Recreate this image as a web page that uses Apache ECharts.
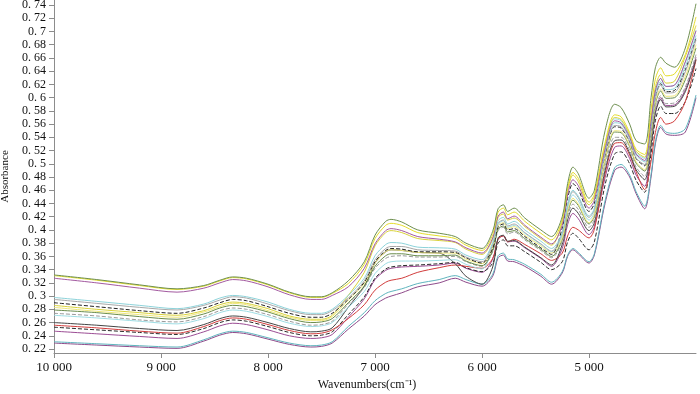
<!DOCTYPE html>
<html>
<head>
<meta charset="utf-8">
<script src="https://cdn.jsdelivr.net/npm/echarts@6.0.0/dist/echarts.min.js"></script>
<style>
  html, body { margin: 0; padding: 0; background: #fff; }
  #chart { width: 700px; height: 394px; }
</style>
</head>
<body>
<div id="chart"></div>
<script>
// wavenumbers (cm-1), shared by every spectrum
const wavenumbers = [10000, 9600, 9200, 8850, 8600, 8450, 8330, 8200, 8000, 7800, 7600, 7500, 7400,
  7250, 7100, 7000, 6900, 6850, 6750, 6600, 6400, 6250, 6150, 6000,
  5900, 5850, 5800, 5760, 5700, 5600, 5450, 5350,
  5250, 5200, 5150, 5100, 5000, 4950,
  4850, 4760, 4700, 4620, 4560, 4480,
  4420, 4380, 4330, 4280, 4200, 4100, 4000];

const xTicks = [10000, 9000, 8000, 7000, 6000, 5000];
const yTicks = [0.22, 0.24, 0.26, 0.28, 0.3, 0.32, 0.34, 0.36, 0.38, 0.4, 0.42, 0.44, 0.46, 0.48,
  0.5, 0.52, 0.54, 0.56, 0.58, 0.6, 0.62, 0.64, 0.66, 0.68, 0.7, 0.72, 0.74];

// absorbance of each sample
const s01 = [.332,.325,.317,.311,.316,.324,.329,.327,.318,.306,.299,.299,.305, .323,.352,.392,.413,.416,.412,.400,.395,.390,.380,.372, .398,.432,.438,.428,.433,.418,.400,.390, .420,.470,.495,.485,.448,.460, .550,.590,.585,.560,.535,.530, .600,.645,.661,.652,.646,.675,.742];
const s02 = [.331,.324,.316,.310,.315,.323,.328,.326,.317,.305,.298,.298,.304, .319,.348,.387,.407,.410,.407,.396,.391,.387,.377,.369, .393,.427,.433,.423,.427,.413,.395,.385, .415,.463,.487,.478,.442,.454, .532,.574,.571,.547,.522,.514, .582,.628,.645,.633,.636,.665,.722];
const s03 = [.327,.320,.312,.306,.312,.320,.325,.323,.314,.302,.295,.295,.301, .314,.342,.379,.399,.402,.399,.390,.386,.382,.373,.365, .388,.421,.427,.417,.421,.407,.389,.379, .407,.453,.476,.467,.433,.445, .522,.565,.562,.540,.515,.505, .564,.610,.629,.617,.619,.654,.701];
const s04 = [.298,.292,.286,.281,.288,.297,.301,.299,.291,.280,.274,.274,.280, .301,.327,.361,.378,.381,.380,.374,.373,.371,.362,.355, .381,.414,.419,.409,.413,.400,.383,.372, .396,.439,.460,.451,.421,.433, .519,.562,.560,.538,.513,.503, .558,.605,.624,.612,.614,.647,.694];
const s05 = [.295,.289,.283,.279,.286,.294,.299,.297,.288,.278,.272,.272,.278, .297,.323,.355,.372,.375,.375,.370,.369,.368,.359,.352, .378,.410,.415,.406,.409,.396,.379,.368, .395,.437,.458,.449,.419,.431, .515,.558,.556,.534,.509,.499, .552,.599,.619,.607,.608,.639,.687];
const s06 = [.290,.284,.278,.274,.282,.290,.295,.293,.284,.274,.268,.268,.274, .295,.321,.352,.369,.372,.371,.367,.367,.366,.358,.350, .372,.404,.409,.400,.402,.390,.373,.363, .403,.448,.470,.461,.428,.440, .513,.556,.554,.533,.508,.497, .554,.601,.621,.609,.611,.642,.690];
const s07 = [.286,.280,.275,.271,.278,.287,.291,.289,.281,.270,.265,.265,.271, .301,.336,.376,.396,.399,.396,.387,.384,.381,.371,.363, .386,.419,.424,.415,.418,.405,.387,.377, .412,.459,.483,.473,.438,.450, .528,.570,.567,.544,.519,.510, .570,.616,.635,.622,.625,.662,.709];
const s08 = [.283,.277,.272,.268,.276,.284,.289,.287,.278,.268,.263,.263,.269, .294,.319,.350,.367,.370,.369,.366,.365,.365,.356,.349, .374,.406,.411,.402,.405,.392,.376,.365, .388,.428,.448,.439,.411,.423, .506,.550,.549,.528,.503,.491, .546,.593,.613,.602,.603,.632,.680];
const s09 = [.279,.275,.269,.265,.273,.282,.286,.284,.276,.266,.260,.261,.266, .290,.315,.345,.361,.364,.364,.361,.361,.362,.353,.346, .369,.401,.406,.397,.399,.387,.371,.360, .386,.426,.445,.437,.409,.421, .504,.548,.547,.526,.501,.489, .542,.590,.610,.599,.600,.627,.675];
const s10 = [.274,.270,.264,.261,.269,.278,.282,.280,.272,.262,.256,.257,.262, .288,.313,.342,.357,.360,.361,.359,.359,.360,.352,.345, .367,.399,.404,.394,.397,.385,.369,.358, .382,.421,.439,.431,.404,.416, .495,.540,.540,.520,.495,.481, .534,.582,.603,.591,.592,.616,.665];
const s11 = [.271,.267,.262,.258,.266,.275,.279,.277,.269,.259,.254,.255,.260, .283,.307,.334,.349,.352,.353,.353,.354,.355,.348,.341, .376,.408,.414,.404,.407,.395,.378,.367, .391,.433,.453,.444,.415,.427, .526,.568,.565,.542,.517,.508, .564,.611,.629,.617,.619,.654,.702];
const s12 = [.260,.256,.251,.248,.257,.266,.270,.268,.260,.251,.246,.247,.252, .283,.315,.350,.367,.370,.369,.366,.365,.349,.330,.318, .344,.388,.392,.383,.384,.374,.358,.347, .378,.415,.433,.425,.399,.411, .490,.535,.536,.516,.491,.476, .528,.576,.597,.586,.587,.609,.658];
const s13 = [.256,.252,.247,.244,.254,.263,.267,.265,.257,.248,.243,.244,.249, .266,.287,.309,.321,.324,.327,.336,.343,.347,.345,.342, .357,.386,.391,.382,.386,.378,.364,.354, .365,.391,.404,.400,.388,.401, .485,.531,.532,.513,.488,.461, .504,.547,.570,.560,.565,.594,.657];
const s14 = [.253,.249,.245,.242,.251,.260,.264,.262,.254,.245,.240,.241,.246, .272,.299,.327,.341,.344,.346,.347,.349,.351,.343,.337, .350,.380,.385,.376,.376,.367,.351,.340, .352,.382,.395,.388,.370,.382, .468,.515,.518,.500,.475,.457, .516,.565,.587,.576,.576,.594,.644];
const s15 = [.247,.243,.239,.236,.246,.255,.259,.257,.249,.240,.236,.237,.242, .268,.296,.325,.339,.342,.344,.345,.347,.350,.342,.336, .356,.386,.391,.382,.383,.373,.357,.345, .372,.408,.425,.417,.393,.405, .479,.525,.527,.508,.483,.466, .530,.578,.600,.588,.589,.612,.661];
const s16 = [.231,.228,.225,.223,.234,.243,.247,.245,.237,.229,.225,.226,.231, .254,.275,.293,.304,.307,.311,.319,.325,.331,.325,.318, .333,.361,.365,.356,.355,.348,.333,.321, .337,.362,.372,.366,.352,.364, .444,.494,.499,.483,.458,.436, .484,.533,.558,.548,.546,.553,.604];
const s17 = [.229,.226,.223,.221,.232,.241,.245,.243,.235,.227,.223,.224,.229, .250,.270,.287,.297,.300,.305,.314,.320,.327,.321,.315, .330,.358,.362,.353,.352,.345,.330,.318, .335,.360,.370,.364,.350,.362, .440,.490,.495,.480,.455,.432, .480,.530,.555,.545,.543,.548,.600];

const spectra = [s17, s16, s15, s14, s13, s12, s11, s10, s09, s08, s07, s06, s05, s04, s03, s02, s01];
const lineColors = ['#8e4a8a', '#5fb5be', '#9b4c94', '#2a2a2a', '#d23c3c', '#444444', '#9edde4', '#9a9a9a',
  '#6a8c4c', '#efe77a', '#d9d23a', '#222222', '#a8a8a8', '#8dd3da', '#a35aa0', '#e5dd2a', '#6e8f4f'];
const dashed = [false, false, false, true, false, false, false, true,
  false, false, false, true, false, false, false, false, false];

function renderChart(chartElementId) {
  const myChart = echarts.init(document.getElementById(chartElementId));
  const axisColor = '#8c8c8c';
  const font = 'Liberation Serif';

  const series = spectra.map((vals, k) => ({
    type: 'line',
    data: wavenumbers.map((w, i) => [w, vals[i]]),
    smooth: 0.3,
    showSymbol: false,
    silent: true,
    lineStyle: { width: 1, color: lineColors[k], type: dashed[k] ? [4, 2] : 'solid' }
  }));

  const option = {
    animation: false,
    backgroundColor: '#fff',
    grid: { left: 54, right: 4, top: 0, bottom: 41, containLabel: false, outerBoundsMode: 'none' },
    xAxis: {
      type: 'value',
      inverse: true,
      min: 4000,
      max: 10000,
      interval: 1000,
      name: 'Wavenumbers(cm⁻¹)',
      nameLocation: 'middle',
      nameGap: 24,
      nameTextStyle: { color: '#111', fontSize: 12, fontFamily: font, padding: [0, 16, 0, 0] },
      axisLine: { show: true, lineStyle: { color: axisColor, width: 1 } },
      axisTick: { show: true, length: 5, customValues: xTicks, lineStyle: { color: axisColor } },
      axisLabel: {
        customValues: xTicks,
        color: '#111',
        fontSize: 13,
        fontFamily: font,
        margin: 8,
        formatter: v => v >= 10000 ? '10 000' : String(v / 1000) + ' 000'
      },
      splitLine: { show: false }
    },
    yAxis: {
      type: 'value',
      min: 0.214,
      max: 0.7476,
      name: 'Absorbance',
      nameLocation: 'middle',
      nameGap: 40,
      nameTextStyle: { color: '#111', fontSize: 11, fontFamily: font },
      axisLine: { show: true, lineStyle: { color: axisColor, width: 1 } },
      axisTick: { show: true, length: 5, customValues: yTicks, lineStyle: { color: axisColor } },
      axisLabel: {
        customValues: yTicks,
        color: '#111',
        fontSize: 12,
        fontFamily: font,
        margin: 8,
        formatter: v => String(+v.toFixed(2)).replace('.', '. ')
      },
      splitLine: { show: false }
    },
    series: series
  };

  myChart.setOption(option);
  window.addEventListener('resize', () => myChart.resize());
}

renderChart('chart');
</script>
</body>
</html>
